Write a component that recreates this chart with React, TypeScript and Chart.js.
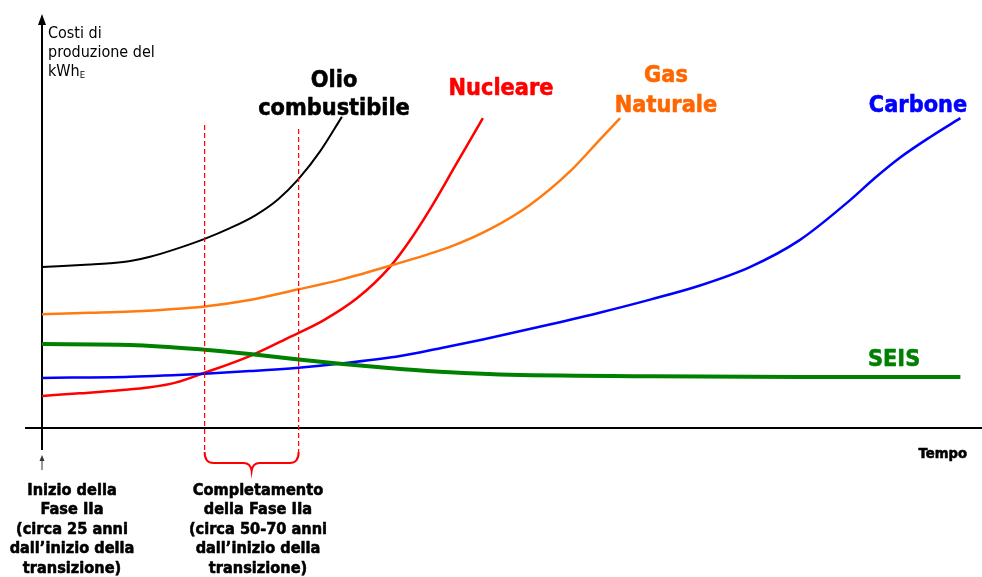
import { useEffect, useRef } from "react";
import { Chart, registerables } from "chart.js";

Chart.register(...registerables);

// Time (abstract units from the start of phase IIa) and cost of the kWh (abstract units)
const olioTime = [0, 5.1, 7.2, 9.4, 11.5, 14.2, 17.3, 20.0, 22.7, 25.1, 27.3, 29.6, 31.9];
const olioCost = [37.6, 38.2, 38.5, 39.0, 40.0, 41.8, 44.2, 46.7, 49.7, 53.4, 58.2, 64.7, 72.7];

const nucleareTime = [0, 4.0, 8.3, 11.5, 14.2, 17.3, 22.1, 26.4, 29.9, 33.5, 37.0, 39.1, 41.3, 44.0, 46.9];
const nucleareCost = [7.5, 8.1, 8.8, 9.5, 10.6, 12.9, 16.8, 21.3, 25.1, 30.3, 37.6, 43.7, 51.2, 61.4, 72.4];

const gasTime = [0, 5.1, 9.4, 17.3, 22.1, 27.3, 31.7, 37.0, 43.4, 47.7, 51.9, 56.2, 59.4, 61.5];
const gasCost = [26.6, 26.9, 27.2, 28.4, 29.9, 32.4, 34.6, 37.9, 42.3, 46.5, 52.1, 60.0, 67.5, 72.4];

const carboneTime = [0, 9.4, 17.3, 22.1, 27.3, 32.8, 38.1, 42.5, 46.9, 54.0, 59.4, 64.7, 70.0, 75.3, 80.6, 86.0, 88.6, 91.3, 94.5, 97.7];
const carboneCost = [11.7, 12.0, 12.7, 13.3, 14.1, 15.3, 16.8, 18.7, 20.7, 24.2, 27.0, 30.0, 33.3, 37.6, 43.9, 53.3, 58.4, 63.2, 68.0, 72.4];

const seisTime = [0, 9.4, 17.3, 22.1, 27.3, 31.7, 38.1, 43.4, 48.7, 64.7, 80.6, 97.7];
const seisCost = [19.6, 19.4, 18.3, 17.3, 16.0, 15.0, 13.8, 13.0, 12.5, 12.1, 11.9, 11.9];

// Completion window of phase IIa on the time axis
const phaseEnd = [17.3, 27.3];

const startLabel = ["Inizio della", "Fase IIa", "(circa 25 anni", "dall’inizio della", "transizione)"];
const endLabel = ["Completamento", "della Fase IIa", "(circa 50-70 anni", "dall’inizio della", "transizione)"];

const FONT = '"DejaVu Sans", Verdana, sans-serif';
const SQUEEZE = 0.91;

const toPoints = (t: number[], v: number[]) => t.map((x, i) => ({ x, y: v[i] }));

function label(
  ctx: CanvasRenderingContext2D,
  text: string,
  x: number,
  y: number,
  size: number,
  color: string,
  align: CanvasTextAlign,
  bold = true,
  sx = SQUEEZE
) {
  ctx.save();
  ctx.translate(x, y);
  ctx.scale(sx, 1);
  ctx.font = `${bold ? "bold " : ""}${size}px ${FONT}`;
  ctx.textAlign = align;
  ctx.textBaseline = "alphabetic";
  ctx.fillStyle = color;
  ctx.fillText(text, 0, 0);
  if (bold) {
    ctx.strokeStyle = color;
    ctx.lineWidth = 0.6;
    ctx.lineJoin = "round";
    ctx.strokeText(text, 0, 0);
  }
  ctx.restore();
}

const decorations = {
  id: "decorations",
  beforeDatasetsDraw(chart: any) {
    const { ctx, chartArea, scales } = chart;
    const x0 = scales.x.getPixelForValue(0);
    const yBase = scales.y.getPixelForValue(0);
    ctx.save();

    // axes
    ctx.strokeStyle = "#000";
    ctx.fillStyle = "#000";
    ctx.lineWidth = 2;
    ctx.beginPath();
    ctx.moveTo(25, yBase);
    ctx.lineTo(chartArea.right, yBase);
    ctx.moveTo(x0, 22);
    ctx.lineTo(x0, 450);
    ctx.stroke();
    ctx.beginPath();
    ctx.moveTo(x0, 14);
    ctx.lineTo(x0 - 4, 25);
    ctx.lineTo(x0 + 4, 25);
    ctx.closePath();
    ctx.fill();

    // small marker arrow under the origin
    ctx.strokeStyle = "#333";
    ctx.fillStyle = "#333";
    ctx.lineWidth = 1;
    ctx.beginPath();
    ctx.moveTo(x0, 470);
    ctx.lineTo(x0, 459);
    ctx.stroke();
    ctx.beginPath();
    ctx.moveTo(x0, 455);
    ctx.lineTo(x0 - 2.5, 461);
    ctx.lineTo(x0 + 2.5, 461);
    ctx.closePath();
    ctx.fill();
    ctx.restore();
  },
  afterDatasetsDraw(chart: any) {
    const { ctx, scales } = chart;
    const xa = scales.x.getPixelForValue(phaseEnd[0]);
    const xb = scales.x.getPixelForValue(phaseEnd[1]);
    ctx.save();

    // dashed markers of the phase completion window
    ctx.strokeStyle = "rgb(255, 0, 0)";
    ctx.lineWidth = 1.2;
    ctx.setLineDash([5, 3]);
    ctx.beginPath();
    ctx.moveTo(xa, 125);
    ctx.lineTo(xa, 452);
    ctx.moveTo(xb, 129);
    ctx.lineTo(xb, 452);
    ctx.stroke();
    ctx.setLineDash([]);

    // brace
    const mid = (xa + xb) / 2;
    ctx.lineWidth = 2;
    ctx.beginPath();
    ctx.moveTo(xa, 452);
    ctx.quadraticCurveTo(xa, 463, xa + 9, 463);
    ctx.lineTo(mid - 8, 463);
    ctx.quadraticCurveTo(mid - 1, 463, mid, 471);
    ctx.quadraticCurveTo(mid + 1, 463, mid + 8, 463);
    ctx.lineTo(xb - 9, 463);
    ctx.quadraticCurveTo(xb, 463, xb, 452);
    ctx.stroke();
    ctx.restore();
  },
  afterDraw(chart: any) {
    const { ctx } = chart;

    // y axis title
    label(ctx, "Costi di", 48, 38, 16, "#000", "left", false, 0.9);
    label(ctx, "produzione del", 48, 57, 16, "#000", "left", false, 0.9);
    label(ctx, "kWh", 48, 76, 16, "#000", "left", false, 0.9);
    ctx.save();
    ctx.font = `16px ${FONT}`;
    const kw = ctx.measureText("kWh").width * 0.9;
    ctx.restore();
    label(ctx, "E", 48 + kw, 78, 9.5, "#000", "left", false, 0.9);

    // curve labels
    label(ctx, "Olio", 334, 87, 23, "#000", "center");
    label(ctx, "combustibile", 334, 115, 23, "#000", "center");
    label(ctx, "Nucleare", 501, 95, 23, "#ff0000", "center");
    label(ctx, "Gas", 666, 82, 23, "#ff6600", "center");
    label(ctx, "Naturale", 666, 112, 23, "#ff6600", "center");
    label(ctx, "Carbone", 918, 112, 23, "#0000ff", "center");
    label(ctx, "SEIS", 868, 366, 23, "#008000", "left");

    // x axis title
    label(ctx, "Tempo", 967, 458, 14.5, "#000", "right");

    // phase annotations
    startLabel.forEach((s, i) => label(ctx, s, 72, 495 + i * 19.4, 16, "#000", "center"));
    endLabel.forEach((s, i) => label(ctx, s, 258, 495 + i * 19.4, 16, "#000", "center"));
  },
};

export default function App() {
  const ref = useRef<HTMLCanvasElement>(null);

  useEffect(() => {
    if (!ref.current) return;
    const line = (name: string, t: number[], v: number[], color: string, width: number) => ({
      label: name,
      data: toPoints(t, v),
      borderColor: color,
      backgroundColor: color,
      borderWidth: width,
      pointRadius: 0,
      cubicInterpolationMode: "monotone" as const,
      fill: false,
    });
    const chart = new Chart(ref.current, {
      type: "line",
      data: {
        datasets: [
          line("SEIS", seisTime, seisCost, "#008000", 4),
          line("Carbone", carboneTime, carboneCost, "#0000ff", 2.5),
          line("Gas Naturale", gasTime, gasCost, "#ff7a10", 2.5),
          line("Nucleare", nucleareTime, nucleareCost, "#ff0000", 2.5),
          line("Olio combustibile", olioTime, olioCost, "#000000", 2),
        ],
      },
      options: {
        animation: false,
        responsive: false,
        layout: { padding: { left: 42, right: 0, top: 0, bottom: 149 } },
        plugins: { legend: { display: false }, tooltip: { enabled: false } },
        scales: {
          x: { type: "linear", min: 0, max: 100, display: false },
          y: { type: "linear", min: 0, max: 100, display: false },
        },
      },
      plugins: [decorations],
    });
    return () => chart.destroy();
  }, []);

  return (
    <div style={{ position: "fixed", left: 0, top: 0, width: 982, height: 577, background: "#fff" }}>
      <canvas ref={ref} width={982} height={577} />
    </div>
  );
}
